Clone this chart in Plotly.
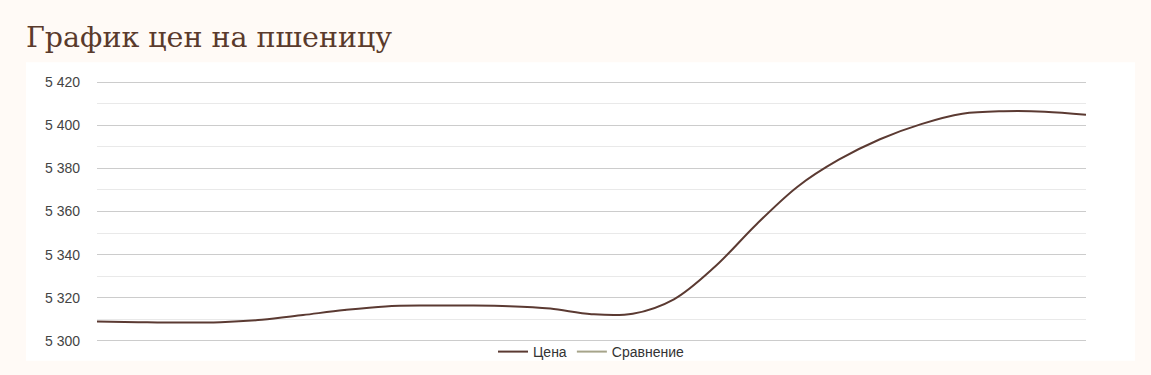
import plotly.graph_objects as go

# Data
x_idx = list(range(25))
price = [5309.0, 5308.7, 5308.5, 5308.7, 5309.8, 5312.0, 5314.3, 5316.0,
         5316.4, 5316.4, 5316.1, 5315.0, 5312.4, 5312.6, 5319.3, 5334.5,
         5354.0, 5371.5, 5384.0, 5393.5, 5400.5, 5405.3, 5406.5, 5406.3,
         5404.8]
series_names = ["Цена", "Сравнение"]
y_ticks = [5300, 5320, 5340, 5360, 5380, 5400, 5420]
title_text = "График цен на пшеницу"

fig = go.Figure()
fig.add_trace(go.Scatter(
    x=x_idx, y=price, mode="lines", name=series_names[0],
    line=dict(color="#5b3a32", width=2, shape="spline", smoothing=1.0),
    hoverinfo="y"))
fig.add_trace(go.Scatter(
    x=[None], y=[None], mode="lines", name=series_names[1],
    line=dict(color="#a6a48a", width=2)))

fig.update_layout(
    width=1151, height=375,
    margin=dict(l=97, r=65, t=81, b=33, autoexpand=False),
    paper_bgcolor="#fffaf6",
    plot_bgcolor="#ffffff",
    separators=", ",
    showlegend=True,
    legend=dict(orientation="h", x=0.5, xanchor="center",
                yref="container", y=1 - 352 / 375, yanchor="middle",
                font=dict(family="Liberation Sans, Arial", size=14, color="#333333"),
                bgcolor="rgba(0,0,0,0)", traceorder="normal"),
    font=dict(family="Liberation Sans, Arial", size=14, color="#444444"),
    title=dict(text=title_text, xref="container", x=26 / 1151, xanchor="left",
               yref="container", y=1 - 37 / 375, yanchor="middle",
               font=dict(family="DejaVu Serif", size=28.5, color="#5a3a2c")),
    xaxis=dict(range=[0, 24], showgrid=False, zeroline=False, showticklabels=False,
               showline=False, fixedrange=True),
    yaxis=dict(range=[5299.5, 5420.5], tickvals=y_ticks, tickformat=",d",
               showgrid=True, gridcolor="#cccccc", gridwidth=1, zeroline=False,
               showline=False, ticks="", ticklabelstandoff=16,
               tickfont=dict(size=14, color="#444444"),
               minor=dict(dtick=10, showgrid=True, gridcolor="#e9e9e9", gridwidth=1)),
    shapes=[dict(type="rect", xref="paper", yref="paper",
                 x0=-0.0718, x1=1.0495, y0=-0.072, y1=1.072,
                 fillcolor="#ffffff", line=dict(width=0), layer="below")],
)

fig.write_html("out.html")
